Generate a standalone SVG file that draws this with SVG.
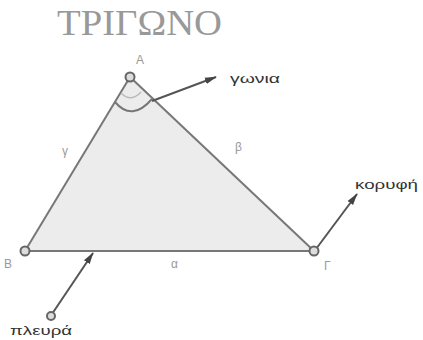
<svg xmlns="http://www.w3.org/2000/svg" width="423" height="340" viewBox="0 0 423 340">
<style>
.lbl{font-family:"Liberation Sans",Arial,sans-serif;fill:#333;font-size:13px;}
.small{font-family:"Liberation Sans",Arial,sans-serif;fill:#999;font-size:12px;}
.edge{stroke:#777;stroke-width:2;fill:none;}
.vtx{fill:#ddd;stroke:#666;stroke-width:2;}
</style>
<defs>
<marker id="ah" viewBox="0 0 14 10" refX="13" refY="5" markerWidth="6" markerHeight="4.5" orient="auto">
<path d="M0,1 L14,5 L0,9 z" fill="#444"/>
</marker>
</defs>
<rect width="423" height="340" fill="#fff"/>
<text x="57" y="35" font-family="'Liberation Serif','Times New Roman',serif" font-size="36" fill="#999" textLength="165" lengthAdjust="spacingAndGlyphs">ΤΡΙΓΩΝΟ</text>
<g id="triangle">
<polygon points="130,77 25,251 314,251" fill="#ececec" stroke="none"/>
<line class="edge" x1="130" y1="77" x2="25" y2="251"/>
<line class="edge" x1="130" y1="77" x2="314" y2="251"/>
<line class="edge" x1="25" y1="251" x2="314" y2="251"/>
<path class="edge" d="M115,102 Q132,122 152,99"/>
<path d="M121,93 Q131,103 141,92" stroke="#bbb" stroke-width="1.5" fill="none"/>
</g>
<g id="connectors">
<line x1="152" y1="101" x2="216" y2="77" stroke="#555" stroke-width="2" marker-end="url(#ah)"/>
<line x1="316" y1="249" x2="357" y2="194" stroke="#555" stroke-width="2" marker-end="url(#ah)"/>
<line x1="52" y1="314" x2="93" y2="253" stroke="#555" stroke-width="2" marker-end="url(#ah)"/>
</g>
<g id="A"><circle class="vtx" cx="130" cy="77" r="4.5"/><text class="small" x="136" y="64" font-size="10">Α</text></g>
<g id="B"><circle class="vtx" cx="25" cy="251" r="4.5"/><text class="small" x="4" y="268">Β</text></g>
<g id="G"><circle class="vtx" cx="314" cy="251" r="4.5"/><text class="small" x="324" y="270">Γ</text></g>
<g id="side-labels">
<text class="small" x="62" y="155" font-size="13">γ</text>
<text class="small" x="235" y="151" font-size="13">β</text>
<text class="small" x="171" y="268" font-size="13">α</text>
</g>
<g id="gonia"><text class="lbl" x="230" y="83" textLength="50" lengthAdjust="spacingAndGlyphs">γωνια</text></g>
<g id="koryfi"><text class="lbl" x="355" y="189" textLength="63" lengthAdjust="spacingAndGlyphs">κορυφή</text></g>
<g id="plevra"><circle class="vtx" cx="51" cy="316" r="4"/><text class="lbl" x="10" y="335" textLength="62" lengthAdjust="spacingAndGlyphs">πλευρά</text></g>
</svg>
